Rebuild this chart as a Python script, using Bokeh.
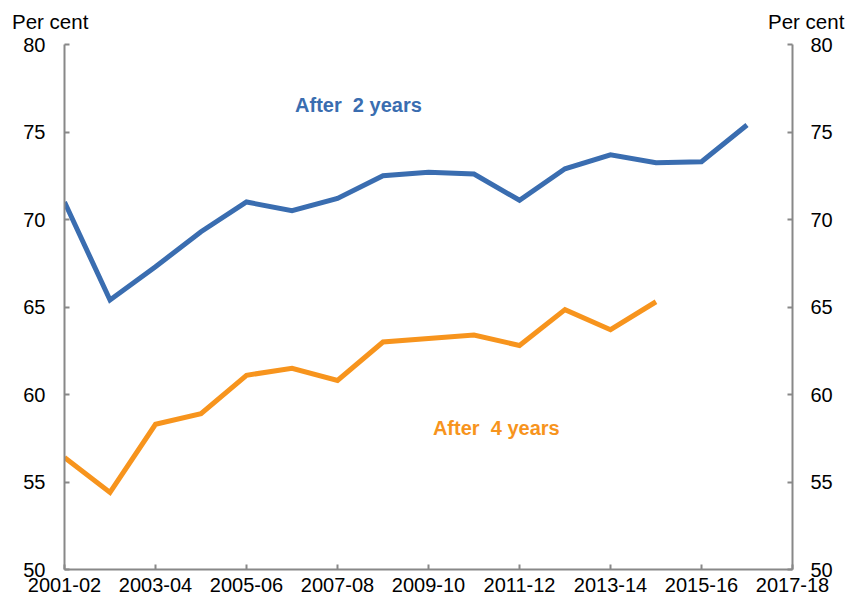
from bokeh.plotting import figure
from bokeh.models import FixedTicker, LinearAxis, Range1d, Label, Div
from bokeh.layouts import column
from bokeh.embed import file_html
from bokeh.resources import INLINE

years = ["2001-02", "2002-03", "2003-04", "2004-05", "2005-06", "2006-07", "2007-08",
         "2008-09", "2009-10", "2010-11", "2011-12", "2012-13", "2013-14", "2014-15",
         "2015-16", "2016-17", "2017-18"]
after_2_years = [71.0, 65.4, 67.3, 69.3, 71.0, 70.5, 71.2, 72.5, 72.7, 72.6, 71.1,
                 72.9, 73.7, 73.25, 73.3, 75.4]
after_4_years = [56.4, 54.4, 58.3, 58.9, 61.1, 61.5, 60.8, 63.0, 63.2, 63.4, 62.8,
                 64.85, 63.7, 65.3]
y_ticks = [50, 55, 60, 65, 70, 75, 80]
unit_label = "Per cent"

BLUE = "#3a6db0"
ORANGE = "#f7941d"
GREY = "#888888"
FONT = "Liberation Sans"

x2 = list(range(len(after_2_years)))
x4 = list(range(len(after_4_years)))
xticks = list(range(0, len(years), 2))

p = figure(width=842, height=568, output_backend="svg", toolbar_location=None,
           x_range=Range1d(0, len(years) - 1), y_range=Range1d(50, 80),
           min_border_left=64, min_border_right=50, min_border_top=12, min_border_bottom=31)
p.outline_line_color = None
p.xgrid.visible = False
p.ygrid.visible = False
p.background_fill_color = "white"
p.border_fill_color = "white"

p.line(x2, after_2_years, line_color=BLUE, line_width=5, line_join="miter")
p.line(x4, after_4_years, line_color=ORANGE, line_width=5, line_join="miter")

def style_axis(ax):
    ax.axis_line_color = GREY
    ax.axis_line_width = 2
    ax.major_tick_line_color = GREY
    ax.major_tick_line_width = 2
    ax.major_tick_in = 5
    ax.major_tick_out = 0
    ax.minor_tick_line_color = None
    ax.major_label_text_font = FONT
    ax.major_label_text_font_size = "20px"
    ax.major_label_text_color = "black"

xa = p.xaxis[0]
style_axis(xa)
xa.ticker = FixedTicker(ticks=xticks)
xa.major_label_overrides = {i: years[i] for i in xticks}
xa.major_label_standoff = 8

ya = p.yaxis[0]
style_axis(ya)
ya.ticker = FixedTicker(ticks=y_ticks)
ya.major_label_standoff = 19

ra = LinearAxis(ticker=FixedTicker(ticks=y_ticks))
style_axis(ra)
ra.major_label_standoff = 18
p.add_layout(ra, "right")

NBSP = "\u00a0"
p.add_layout(Label(x=6.46, y=76.57, text="After" + NBSP + " 2 years", text_color=BLUE,
                   text_font=FONT, text_font_size="20px", text_font_style="bold",
                   text_align="center", text_baseline="middle"))
p.add_layout(Label(x=9.49, y=58.11, text="After" + NBSP + " 4 years", text_color=ORANGE,
                   text_font=FONT, text_font_size="20px", text_font_style="bold",
                   text_align="center", text_baseline="middle"))

span_style = "position:absolute;top:11px;white-space:nowrap;line-height:21px;"
header = Div(
    text=(f'<div style="position:relative;width:842px;height:32px;'
          f'font-family:\'{FONT}\';font-size:20.5px;color:black;">'
          f'<span style="{span_style}left:12px;">{unit_label}</span>'
          f'<span style="{span_style}left:768px;">{unit_label}</span></div>'),
    width=842, height=32, margin=0)

layout = column(header, p, spacing=0)
open("out.html", "w").write(file_html(layout, INLINE))
